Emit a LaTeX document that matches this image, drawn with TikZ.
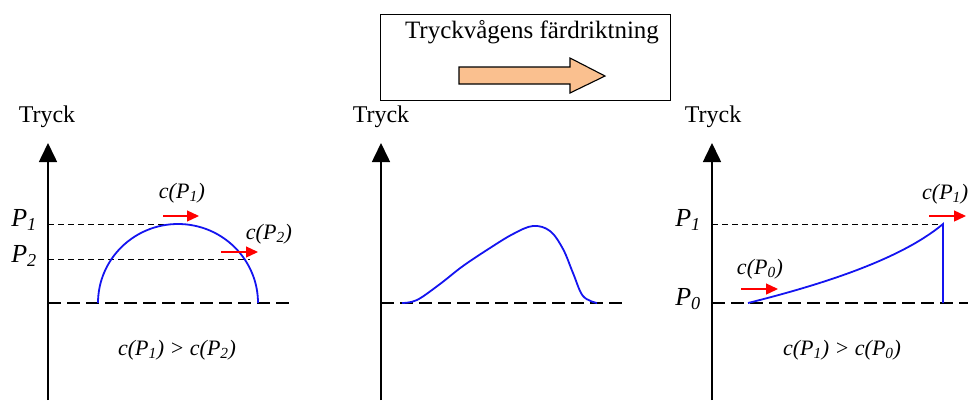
\documentclass[tikz,border=0pt]{standalone}
\usepackage{fontspec}
\setmainfont{Liberation Serif}
\usetikzlibrary{arrows.meta}
\definecolor{peach}{RGB}{250,192,143}
\definecolor{curveblue}{RGB}{20,20,240}
\tikzset{
  axisline/.style={line width=1.6pt,-{Triangle[length=19pt,width=18pt]}},
  baseline dash/.style={line width=1.2pt,dash pattern=on 13pt off 6pt},
  level dash/.style={line width=0.9pt,dash pattern=on 6pt off 4pt},
  wave/.style={line width=1.8pt,curveblue},
  speed/.style={line width=1.3pt,red,-{Triangle[length=12pt,width=11pt]}},
  lbl/.style={font=\fontsize{22}{24}\selectfont\itshape,inner sep=0pt},
  plbl/.style={font=\fontsize{26}{28}\selectfont\itshape,inner sep=0pt},
  rel/.style={font=\fontsize{22}{24}\selectfont\itshape,inner sep=0pt},
  axlbl/.style={font=\fontsize{24}{26}\selectfont,inner sep=0pt},
}
\begin{document}
\begin{tikzpicture}[x=1pt,y=-1pt]
\useasboundingbox (0,0) rectangle (968,400);
% title box
\node[draw,line width=1.4pt,minimum width=290pt,minimum height=86pt,anchor=north west] (box) at (380,14) {};
\node[font=\fontsize{25}{27}\selectfont,inner sep=0pt] (title) at (532,32) {Tryckvågens färdriktning};
\draw[line width=1.1pt,fill=peach] (459,67) -- (570,67) -- (570,58) -- (605,76) -- (570,93) -- (570,84) -- (459,84) -- cycle;

% ---------- panel 1 ----------
\node[axlbl] (t1) at (47,117) {Tryck};
\coordinate (a1b) at (48,400);
\coordinate (a1t) at (48,143);
\draw[axisline] (a1b) -- (a1t);
\draw[baseline dash] (48,303) -- (295,303);
\draw[level dash] (48,224) -- (180,224);
\draw[level dash] (48,259) -- (250,259);
\draw[wave] (98,303) arc[start angle=180,end angle=0,x radius=80,y radius=-79];
\node[plbl] (p1a) at (24,220) {P\textsubscript{1}};
\node[plbl] (p2a) at (24,256) {P\textsubscript{2}};
\node[lbl] (c1a) at (182,193) {c(P\textsubscript{1})};
\draw[speed] (163,216) -- (199,216);
\node[lbl] (c2a) at (269,234) {c(P\textsubscript{2})};
\draw[speed] (221,252) -- (258,252);
\node[rel] (r1) at (177,350) {c(P\textsubscript{1}) > c(P\textsubscript{2})};

% ---------- panel 2 ----------
\node[axlbl] (t2) at (381,117) {Tryck};
\coordinate (a2b) at (381,400);
\coordinate (a2t) at (381,143);
\draw[axisline] (a2b) -- (a2t);
\draw[baseline dash] (381,303) -- (627,303);
\draw[wave] plot[smooth,tension=0.6] coordinates {(402,303) (417,300) (440,284) (463,266) (490,248) (513,234) (533,226) (550,231) (563,249) (573,273) (583,296) (597,303)};

% ---------- panel 3 ----------
\node[axlbl] (t3) at (713,117) {Tryck};
\coordinate (a3b) at (712,400);
\coordinate (a3t) at (712,143);
\draw[axisline] (a3b) -- (a3t);
\draw[baseline dash] (712,303) -- (968,303);
\draw[level dash] (712,224) -- (943,224);
\draw[wave] (748,303) .. controls (820,285) and (900,260) .. (943,224) -- (943,303);
\node[plbl] (p1c) at (688,220) {P\textsubscript{1}};
\node[plbl] (p0c) at (688,299) {P\textsubscript{0}};
\node[lbl] (c0c) at (760,269) {c(P\textsubscript{0})};
\draw[speed] (741,289) -- (778,289);
\node[lbl,anchor=west] (c1c) at (922,194) {c(P\textsubscript{1})};
\draw[speed] (929,216) -- (966,216);
\node[rel] (r3) at (842,350) {c(P\textsubscript{1}) > c(P\textsubscript{0})};
\end{tikzpicture}
\end{document}
